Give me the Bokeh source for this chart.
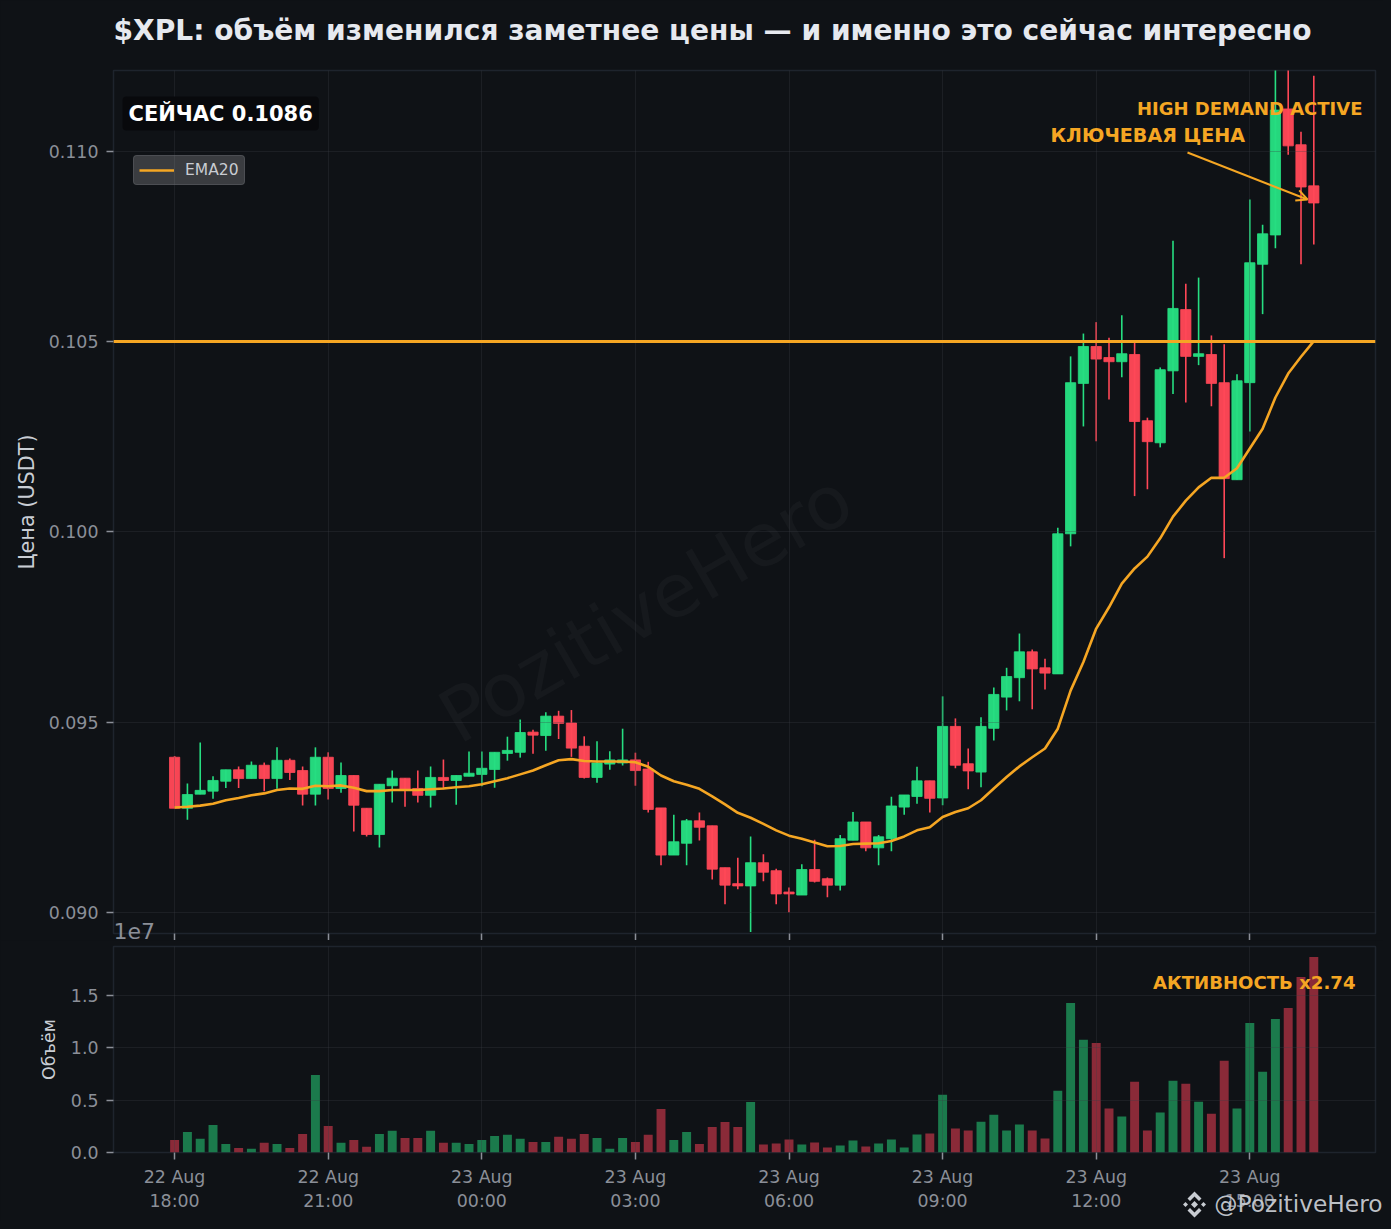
from bokeh.plotting import figure
from bokeh.layouts import column
from bokeh.models import (Range1d, Label, Span, Arrow, OpenHead, Legend, LegendItem, ColumnDataSource,
                          NumeralTickFormatter)
from bokeh.embed import file_html
from bokeh.resources import INLINE
import numpy as np

open_ = [.09408,.09274,.09311,.09319,.09345,.09375,.09352,.09387,.09352,.09400,
         .09373,.09311,.09408,.09326,.09360,.09274,.09205,.09333,.09353,.09326,
         .09308,.09355,.09347,.09358,.09363,.09376,.09418,.09421,.09474,.09465,
         .09516,.09498,.09437,.09355,.09390,.09393,.09401,.09377,.09275,.09151,
         .09182,.09241,.09228,.09118,.09076,.09070,.09131,.09110,.09054,.09046,
         .09113,.09089,.09072,.09190,.09238,.09170,.09194,.09277,.09305,.09346,
         .09301,.09489,.09391,.09369,.09484,.09566,.09617,.09685,.09643,.09627,
         .09995,.10390,.10487,.10458,.10447,.10466,.10292,.10234,.10423,.10584,
         .10461,.10466,.10392,.10137,.10392,.10703,.10780,.11111,.11017,.10909]
close = [.09274,.09310,.09321,.09347,.09375,.09352,.09387,.09352,.09400,.09368,
         .09311,.09408,.09326,.09360,.09282,.09205,.09337,.09353,.09321,.09308,
         .09355,.09347,.09360,.09366,.09379,.09421,.09426,.09473,.09466,.09516,
         .09497,.09432,.09355,.09393,.09401,.09401,.09373,.09271,.09151,.09186,
         .09241,.09224,.09114,.09072,.09070,.09131,.09106,.09049,.09049,.09113,
         .09082,.09072,.09194,.09238,.09170,.09199,.09280,.09309,.09346,.09300,
         .09489,.09387,.09372,.09489,.09573,.09620,.09685,.09640,.09629,.09995,
         .10392,.10487,.10454,.10447,.10468,.10290,.10237,.10426,.10587,.10461,
         .10468,.10390,.10140,.10397,.10707,.10783,.11108,.11014,.10906,.10864]
high = [.09411,.09339,.09447,.09358,.09375,.09384,.09397,.09394,.09434,.09405,
        .09384,.09434,.09421,.09394,.09360,.09274,.09337,.09373,.09353,.09373,
        .09384,.09402,.09360,.09423,.09423,.09421,.09462,.09507,.09480,.09526,
        .09530,.09532,.09463,.09450,.09424,.09483,.09420,.09396,.09275,.09257,
        .09246,.09263,.09228,.09118,.09144,.09200,.09153,.09115,.09066,.09127,
        .09191,.09092,.09204,.09264,.09238,.09204,.09304,.09309,.09383,.09346,
        .09568,.09510,.09431,.09513,.09591,.09643,.09733,.09691,.09667,.10011,
        .10461,.10521,.10551,.10510,.10569,.10500,.10300,.10432,.10765,.10652,
        .10668,.10516,.10493,.10414,.10873,.10807,.11300,.11300,.11051,.11198]
low = [.09274,.09244,.09311,.09299,.09327,.09327,.09352,.09319,.09325,.09348,
       .09281,.09281,.09297,.09315,.09213,.09200,.09171,.09289,.09278,.09289,
       .09276,.09324,.09283,.09358,.09332,.09328,.09399,.09407,.09417,.09425,
       .09456,.09409,.09352,.09341,.09375,.09386,.09333,.09263,.09124,.09151,
       .09124,.09189,.09087,.09022,.09061,.08949,.09082,.09022,.09001,.09046,
       .09079,.09040,.09058,.09190,.09161,.09124,.09161,.09257,.09286,.09263,
       .09282,.09379,.09324,.09329,.09452,.09531,.09555,.09534,.09586,.09627,
       .09962,.10277,.10238,.10348,.10406,.10094,.10112,.10222,.10362,.10340,
       .10438,.10330,.09931,.10137,.10264,.10572,.10745,.10991,.10703,.10755]
ema20 = [.09276,.09278,.09281,.09286,.09295,.09301,.09308,.09313,.09322,.09326,
         .09325,.09333,.09332,.09334,.09328,.09319,.09319,.09322,.09322,.09322,
         .09324,.09326,.09329,.09332,.09337,.09345,.09353,.09363,.09373,.09387,
         .09400,.09403,.09398,.09397,.09397,.09397,.09395,.09383,.09360,.09345,
         .09336,.09325,.09305,.09284,.09262,.09249,.09233,.09216,.09202,.09194,
         .09184,.09174,.09175,.09180,.09181,.09182,.09188,.09200,.09216,.09224,
         .09251,.09264,.09274,.09295,.09326,.09356,.09384,.09408,.09431,.09483,
         .09583,.09658,.09746,.09802,.09864,.09904,.09935,.09983,.10040,.10082,
         .10117,.10142,.10142,.10167,.10219,.10271,.10353,.10416,.10460,.10501]
volume_1e7 = [.120,.196,.130,.263,.082,.044,.035,.092,.082,.044,
              .177,.737,.253,.092,.120,.054,.177,.206,.139,.139,
              .206,.092,.092,.082,.120,.158,.168,.130,.101,.101,
              .149,.130,.177,.139,.035,.139,.101,.168,.415,.120,
              .196,.082,.244,.291,.244,.481,.076,.085,.123,.076,
              .095,.047,.066,.114,.057,.085,.123,.047,.171,.180,
              .550,.228,.209,.294,.360,.209,.266,.209,.133,.589,
              1.424,1.073,1.044,.418,.342,.674,.209,.380,.684,.655,
              .484,.370,.873,.418,1.234,.769,1.272,1.377,1.671,1.861]

x_ticks = [0, 12, 24, 36, 48, 60, 72, 84]
x_tick_labels = ["22 Aug\n18:00", "22 Aug\n21:00", "23 Aug\n00:00", "23 Aug\n03:00",
                 "23 Aug\n06:00", "23 Aug\n09:00", "23 Aug\n12:00", "23 Aug\n15:00"]
price_ticks = [0.090, 0.095, 0.100, 0.105, 0.110]
volume_ticks = [0.0, 0.5, 1.0, 1.5]
key_price = 0.105
title_text = "$XPL: объём изменился заметнее цены — и именно это сейчас интересно"

BG = "#0f1216"; GREEN = "#26de81"; RED = "#ff4757"; ORANGE = "#f5a623"
VGREEN = "#1b7a4c"; VRED = "#8a2a38"
FONT = "DejaVu Sans"; TICKC = "#8b8f98"; FRAME = "#1e242d"; GRID = "#3a3e46"

W, H1, H2 = 1383, 940, 281
X0, X1 = -4.775, 93.82
Y0, Y1 = 0.08945, 0.11212
V1 = 1.962

# page-pixel helpers for annotation placement inside the frames
def fx(px): return X0 + (px - 113) / 1262 * (X1 - X0)
def y1(py): return Y0 + (933 - py) / 863 * (Y1 - Y0)
def y2(py): return (1152 - py) / 206 * V1

n = len(open_)
xs = np.arange(n)
top = [max(o, c) for o, c in zip(open_, close)]
bot = [min(o, c) for o, c in zip(open_, close)]
up = [c >= o for o, c in zip(open_, close)]
src = ColumnDataSource(dict(x=xs, high=high, low=low, top=top, bot=bot, vol=volume_1e7, ema=ema20,
                            col=[GREEN if u else RED for u in up],
                            vcol=[VGREEN if u else VRED for u in up]))

def style(p, ylabel, standoff):
    p.background_fill_color = BG
    p.border_fill_color = BG
    p.outline_line_color = FRAME
    p.outline_line_width = 1.5
    p.min_border_right = 8
    p.min_border_left = 113
    for ax in (p.xaxis[0], p.yaxis[0]):
        ax.axis_line_color = None
        ax.major_tick_line_color = TICKC
        ax.major_tick_line_width = 1.5
        ax.major_tick_out = 7
        ax.major_tick_in = 0
        ax.minor_tick_line_color = None
        ax.major_label_text_color = TICKC
        ax.major_label_text_font = FONT
        ax.major_label_text_font_size = "17.4px"
        ax.major_label_standoff = 8
    p.yaxis[0].axis_label = ylabel
    p.yaxis[0].axis_label_text_font = FONT
    p.yaxis[0].axis_label_text_font_style = "normal"
    p.yaxis[0].axis_label_text_color = "#c9cdd4"
    p.yaxis[0].axis_label_standoff = standoff
    p.xaxis[0].ticker = x_ticks
    for g in (p.xgrid[0], p.ygrid[0]):
        g.grid_line_color = GRID
        g.grid_line_alpha = 0.3
        g.grid_line_width = 1
        g.level = "guide"

p1 = figure(width=W, height=H1, output_backend="svg", toolbar_location=None,
            x_range=Range1d(X0, X1), y_range=Range1d(Y0, Y1),
            min_border_top=70, min_border_bottom=7)
style(p1, "Цена (USDT)", 7)
p1.yaxis[0].ticker = price_ticks
p1.yaxis[0].formatter = NumeralTickFormatter(format="0.000")
p1.yaxis[0].axis_label_text_font_size = "20.8px"
p1.xaxis[0].major_label_text_font_size = "0px"
p1.xaxis[0].major_label_standoff = 0
p1.xaxis[0].major_label_overrides = {t: "" for t in x_ticks}

wm = Label(x=fx(645), y=y1(607), text="PozitiveHero", text_font=FONT, text_font_size="74px",
           text_color="#ffffff", text_alpha=0.03, angle=30, angle_units="deg",
           text_align="center", text_baseline="middle", level="underlay")
p1.add_layout(wm)

p1.segment("x", "high", "x", "low", source=src, line_color="col", line_width=1.6)
p1.vbar("x", 0.8, "top", "bot", source=src, fill_color="col", fill_alpha=0.97,
        line_color="col", line_alpha=0.8, line_width=1)

p1.add_layout(Span(location=key_price, dimension="width", line_color=ORANGE, line_width=3, level="overlay"))
ema_r = p1.line("x", "ema", source=src, line_color=ORANGE, line_width=2.6, level="overlay")

legend = Legend(items=[LegendItem(label="EMA20", renderers=[ema_r])], location=(20, 748),
                background_fill_color="#ffffff", background_fill_alpha=0.18,
                border_line_color="#5e6066", border_line_width=1.5,
                label_text_font=FONT, label_text_font_size="15.5px", label_text_color="#c9ccd2",
                glyph_width=35, glyph_height=14, label_height=14, label_standoff=11,
                padding=5, spacing=0, margin=0)
if "border_radius" in Legend.properties():
    legend.border_radius = 4
p1.add_layout(legend)

p1.add_layout(Label(x=fx(122), y=y1(113), text="СЕЙЧАС 0.1086", text_font=FONT, text_font_style="bold",
                    text_font_size="21px", text_color="#ffffff", text_align="left", text_baseline="middle",
                    background_fill_color="#08090c", padding=(6, 5), border_radius=4))
p1.add_layout(Label(x=fx(1362), y=y1(108), text="HIGH DEMAND ACTIVE", text_font=FONT, text_font_style="bold",
                    text_font_size="18px", text_color=ORANGE, text_align="right", text_baseline="middle"))
p1.add_layout(Label(x=fx(1050), y=y1(135), text="КЛЮЧЕВАЯ ЦЕНА", text_font=FONT, text_font_style="bold",
                    text_font_size="19.1px", text_color=ORANGE, text_align="left", text_baseline="middle"))
p1.add_layout(Arrow(end=OpenHead(size=11, line_color=ORANGE, line_width=2), x_start=fx(1187), y_start=y1(152),
                    x_end=fx(1307), y_end=y1(199), line_color=ORANGE, line_width=2))

p2 = figure(width=W, height=H2, output_backend="svg", toolbar_location=None,
            x_range=p1.x_range, y_range=Range1d(0, V1),
            min_border_top=6, min_border_bottom=69)
style(p2, "Объём", 9)
p2.yaxis[0].ticker = volume_ticks
p2.yaxis[0].formatter = NumeralTickFormatter(format="0.0")
p2.yaxis[0].axis_label_text_font_size = "17.5px"
p2.xaxis[0].major_label_standoff = 7
p2.xaxis[0].major_label_overrides = dict(zip(x_ticks, x_tick_labels))

p2.vbar("x", 0.7, "vol", 0, source=src, fill_color="vcol", line_color=None)
p2.add_layout(Label(x=fx(1355), y=y2(982), text="АКТИВНОСТЬ x2.74", text_font=FONT, text_font_style="bold",
                    text_font_size="18.1px", text_color=ORANGE, text_align="right", text_baseline="middle"))

# transparent page-sized overlay for the texts that lie outside the plot frames
ov = figure(width=W, height=H1 + H2, output_backend="svg", toolbar_location=None,
            x_range=Range1d(0, W), y_range=Range1d(H1 + H2, 0),
            x_axis_location=None, y_axis_location=None, min_border=0,
            background_fill_color=None, border_fill_color=None, outline_line_color=None)
ov.grid.visible = False
ov.margin = (-(H1 + H2), 0, 0, 0)

ov.add_layout(Label(x=113, y=30, text=title_text, text_font=FONT, text_font_style="bold",
                    text_font_size="28.1px", text_color="#e6e9ef", text_align="left", text_baseline="middle"))
ov.add_layout(Label(x=113, y=930.5, text="1e7", text_font=FONT, text_font_size="22px",
                    text_color=TICKC, text_align="left", text_baseline="middle"))

LOGO = "#c8ccd2"
cx, cy = 1194, 1204
shapes = [
    [(0, -3.5), (3.5, 0), (0, 3.5), (-3.5, 0)],
    [(-9, -2.5), (-6.5, 0), (-9, 2.5), (-11.5, 0)],
    [(9, -2.5), (11.5, 0), (9, 2.5), (6.5, 0)],
    [(0, -13), (7, -6), (4.5, -3.5), (0, -8), (-4.5, -3.5), (-7, -6)],
    [(0, 13), (7, 6), (4.5, 3.5), (0, 8), (-4.5, 3.5), (-7, 6)],
]
ov.patches([[cx + a for a, b in s] for s in shapes], [[cy + b for a, b in s] for s in shapes],
           fill_color=LOGO, line_color=None)
ov.add_layout(Label(x=1382, y=1203, text="@PozitiveHero", text_font=FONT, text_font_size="23.3px",
                    text_color=LOGO, text_alpha=0.95, text_align="right", text_baseline="middle"))

page = column(column(p1, p2, spacing=0), ov, spacing=0)
html = file_html(page, INLINE)
html = html.replace("</head>", "<style>html,body{background:#0f1216;margin:0 !important;overflow:hidden;}</style></head>", 1)
open("out.html", "w").write(html)
